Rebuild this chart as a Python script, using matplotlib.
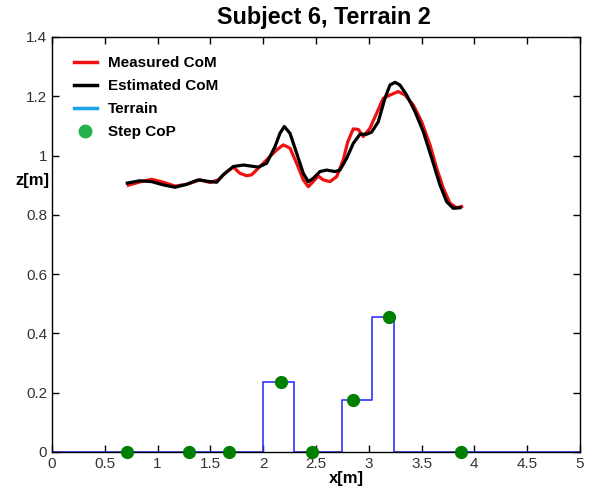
import matplotlib
matplotlib.use("Agg")
import matplotlib.pyplot as plt
from matplotlib.lines import Line2D

plt.rcParams['font.family'] = ['Liberation Sans', 'DejaVu Sans']

# Measured CoM (red)
meas_x = [0.723, 0.833, 0.944, 1.054, 1.165, 1.276, 1.402, 1.496, 1.575, 1.638, 1.717, 1.780,
          1.844, 1.891, 1.970, 2.048, 2.128, 2.190, 2.254, 2.317, 2.380, 2.427, 2.474, 2.522,
          2.569, 2.633, 2.696, 2.758, 2.800, 2.853, 2.901, 2.948, 3.011, 3.075, 3.137, 3.201,
          3.279, 3.343, 3.421, 3.501, 3.580, 3.643, 3.706, 3.769, 3.832, 3.880]
meas_z = [0.900, 0.911, 0.920, 0.910, 0.897, 0.903, 0.918, 0.909, 0.918, 0.940, 0.961, 0.940,
          0.932, 0.935, 0.963, 0.991, 1.019, 1.036, 1.025, 0.974, 0.918, 0.895, 0.912, 0.931,
          0.918, 0.912, 0.929, 0.985, 1.045, 1.090, 1.088, 1.064, 1.092, 1.143, 1.193, 1.204,
          1.216, 1.204, 1.171, 1.114, 1.036, 0.957, 0.890, 0.839, 0.824, 0.828]

# Estimated CoM (black)
est_x = [0.713, 0.833, 0.944, 1.054, 1.165, 1.276, 1.385, 1.496, 1.560, 1.622, 1.717, 1.812,
         1.875, 1.954, 2.033, 2.112, 2.159, 2.200, 2.254, 2.317, 2.380, 2.427, 2.474, 2.538,
         2.601, 2.680, 2.727, 2.791, 2.853, 2.917, 2.980, 3.027, 3.090, 3.153, 3.201, 3.248,
         3.295, 3.359, 3.438, 3.516, 3.596, 3.674, 3.738, 3.800, 3.864]
est_z = [0.907, 0.915, 0.912, 0.901, 0.893, 0.903, 0.918, 0.912, 0.910, 0.935, 0.963, 0.968,
         0.965, 0.961, 0.974, 1.030, 1.075, 1.098, 1.075, 1.008, 0.940, 0.912, 0.923, 0.946,
         0.951, 0.946, 0.951, 0.991, 1.041, 1.072, 1.072, 1.079, 1.114, 1.193, 1.238, 1.247,
         1.238, 1.204, 1.148, 1.081, 0.991, 0.901, 0.844, 0.822, 0.824]

# Terrain profile (step outline)
terrain_x = [0.0, 2.0, 2.0, 2.29, 2.29, 2.75, 2.75, 3.03, 3.03, 3.24, 3.24, 5.0]
terrain_z = [0.0, 0.0, 0.237, 0.237, 0.0, 0.0, 0.175, 0.175, 0.454, 0.454, 0.0, 0.0]

# Step CoP
cop_x = [0.71, 1.30, 1.68, 2.165, 2.465, 2.853, 3.19, 3.87]
cop_z = [0.0, 0.0, 0.0, 0.237, 0.0, 0.175, 0.454, 0.0]

fig = plt.figure(figsize=(6.13, 4.93), dpi=100)
ax = fig.add_axes([0.0848, 0.0832, 0.8613, 0.8418])

ax.plot(terrain_x, terrain_z, color='#3333ff', lw=1.2, zorder=2)
ax.plot(meas_x, meas_z, color='#ee1111', lw=2.3, zorder=3)
ax.plot(est_x, est_z, color='black', lw=2.3, zorder=4)
ax.plot(cop_x, cop_z, 'o', color='#007f00', markersize=8.5, zorder=5, clip_on=False)

ax.set_xlim(0, 5)
ax.set_ylim(0, 1.4)
ax.set_xticks([0, 0.5, 1, 1.5, 2, 2.5, 3, 3.5, 4, 4.5, 5])
ax.set_xticklabels(['0', '0.5', '1', '1.5', '2', '2.5', '3', '3.5', '4', '4.5', '5'])
ax.set_yticks([0, 0.2, 0.4, 0.6, 0.8, 1, 1.2, 1.4])
ax.set_yticklabels(['0', '0.2', '0.4', '0.6', '0.8', '1', '1.2', '1.4'])
ax.tick_params(direction='in', length=5, width=1, labelsize=11, labelcolor='#333333',
               top=True, right=True)
for s in ax.spines.values():
    s.set_linewidth(1.0)

ax.set_title('Subject 6, Terrain 2', fontsize=16.8, fontweight='bold', pad=9, x=0.515)
ax.set_xlabel('x[m]', fontsize=12, fontweight='bold')
ax.xaxis.set_label_coords(0.557, -0.045)
ax.set_ylabel('z[m]', fontsize=12, fontweight='bold', rotation=0, va='center', ha='center')
ax.yaxis.set_label_coords(-0.038, 0.653)

handles = [
    Line2D([], [], color='#ee1111', lw=2.5),
    Line2D([], [], color='black', lw=2.5),
    Line2D([], [], color='#1aa3e8', lw=2.5),
    Line2D([], [], marker='o', color='#22b14c', lw=0, markersize=9),
]
labels = ['Measured CoM', 'Estimated CoM', 'Terrain', 'Step CoP']
ax.legend(handles, labels, loc='upper left', frameon=False,
          prop={'size': 11, 'weight': 'bold'}, handlelength=1.55, handletextpad=0.7,
          labelspacing=0.58, borderaxespad=0.6, bbox_to_anchor=(0.012, 0.99))

fig.savefig('out.png', dpi=100)
